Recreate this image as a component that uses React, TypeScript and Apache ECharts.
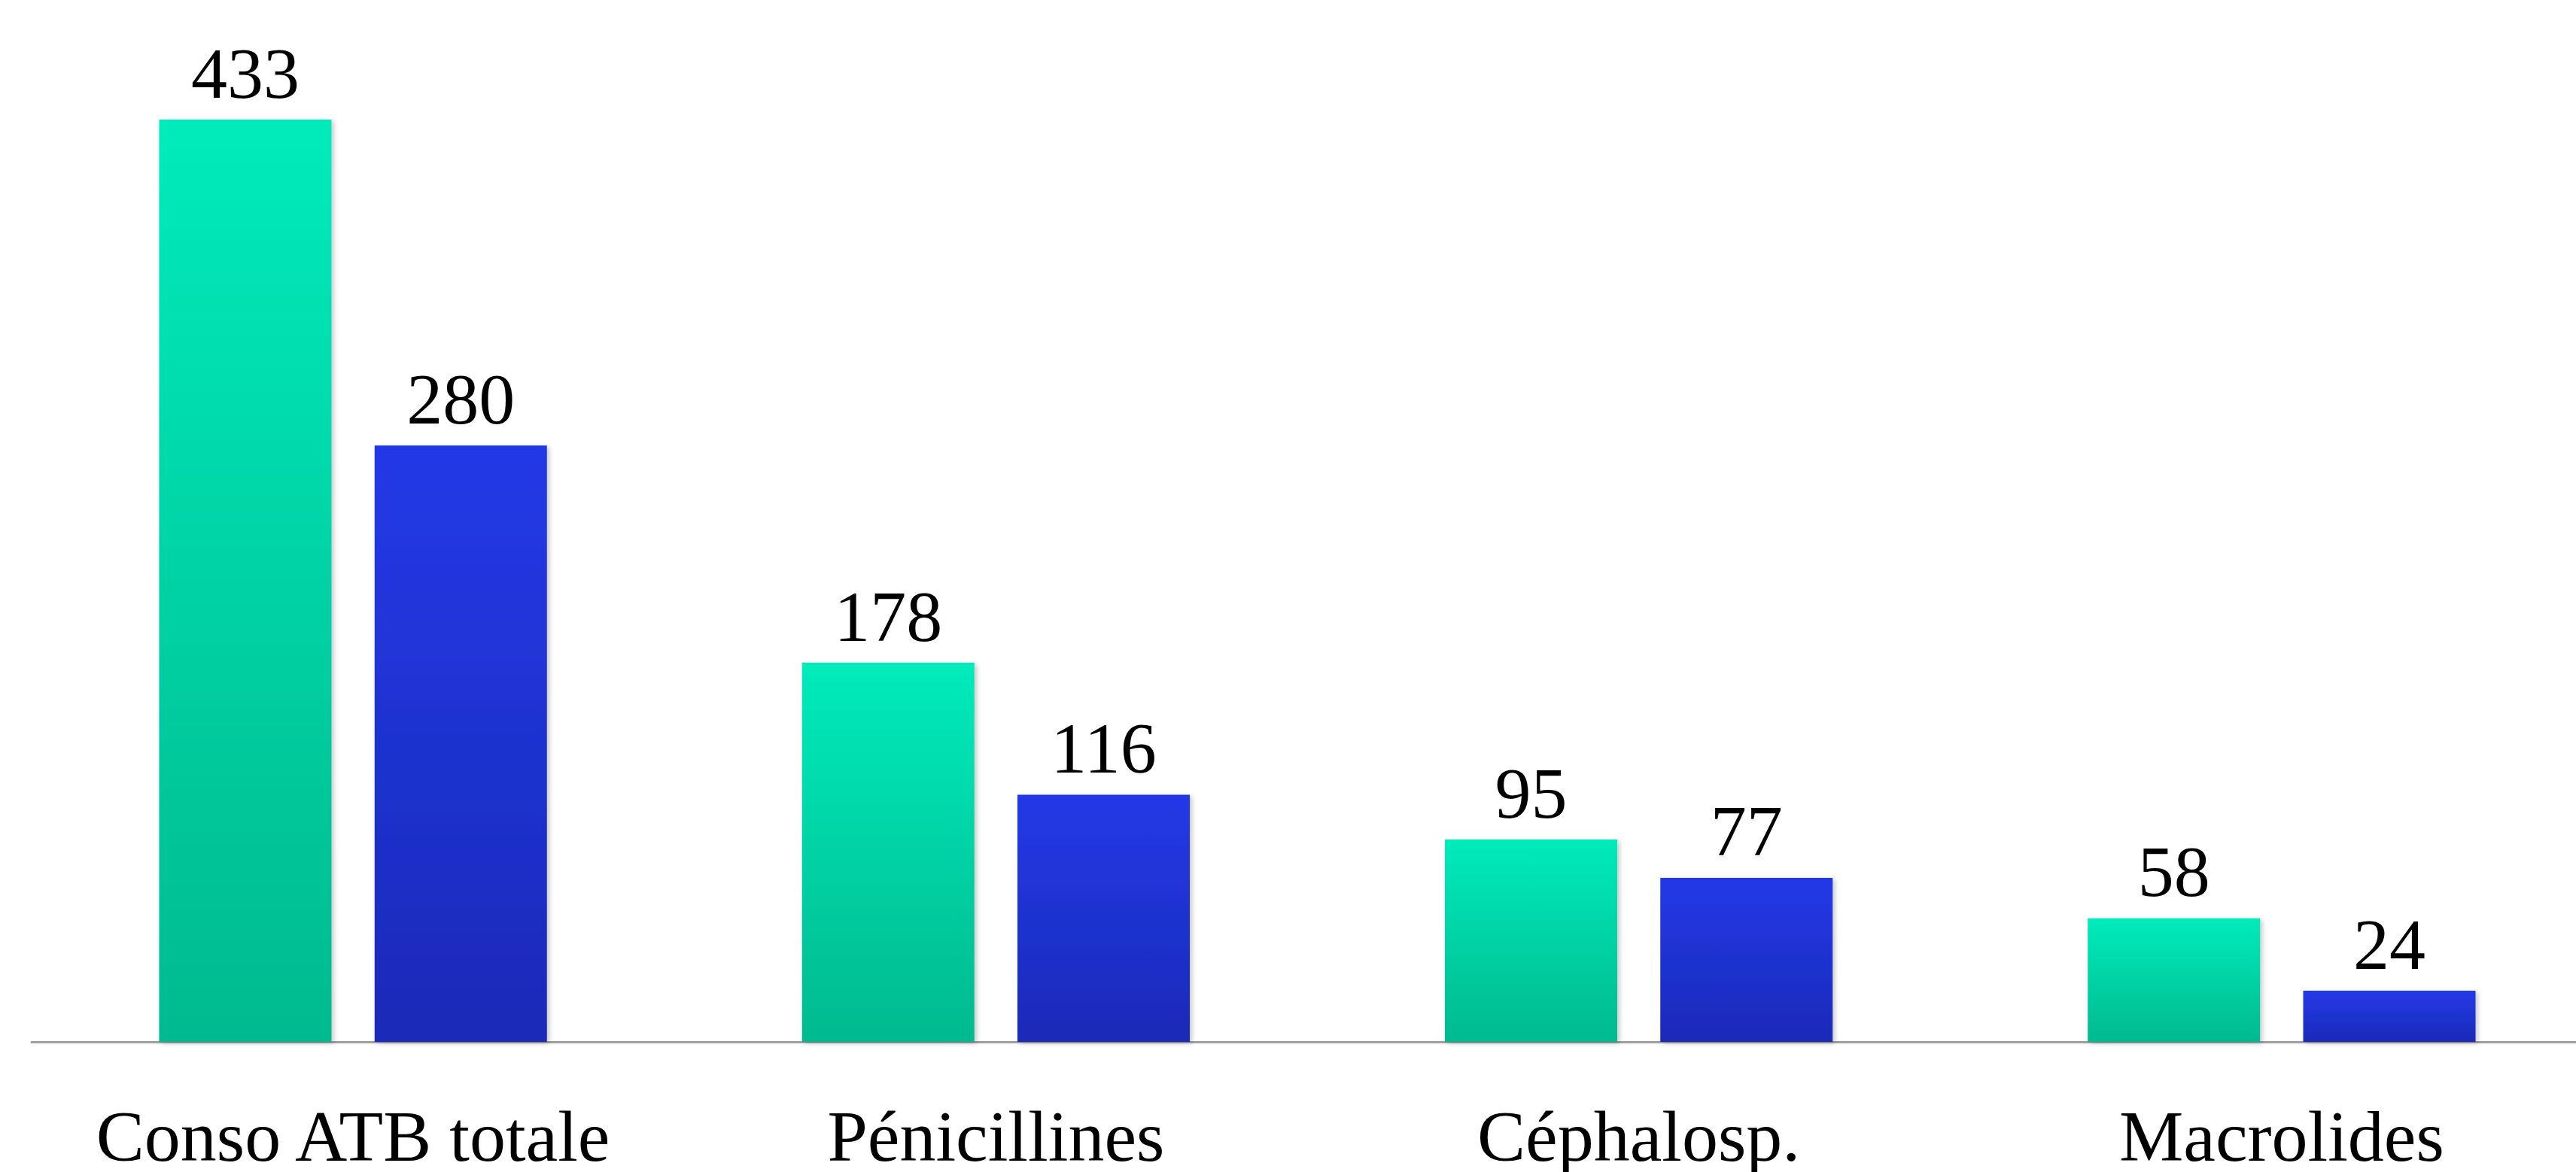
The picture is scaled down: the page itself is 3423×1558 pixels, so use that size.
import React, { useEffect, useRef } from "react";
import * as echarts from "echarts";

const categories = ["Conso ATB totale", "Pénicillines", "Céphalosp.", "Macrolides"];
const seriesNames = ["Série 1", "Série 2"];
const series1Values = [433, 178, 95, 58];
const series2Values = [280, 116, 77, 24];

const FONT = '"Liberation Serif", "Times New Roman", "DejaVu Serif", serif';

function grad(top: string, bottom: string) {
  return new echarts.graphic.LinearGradient(0, 0, 0, 1, [
    { offset: 0, color: top },
    { offset: 1, color: bottom },
  ]);
}

export default function App() {
  const ref = useRef<HTMLDivElement>(null);
  useEffect(() => {
    document.body.style.margin = "0";
    document.body.style.overflow = "hidden";
    if (!ref.current) return;
    const chart = echarts.init(ref.current, null, { renderer: "svg" });
    const labelCfg = {
      show: true,
      position: "top" as const,
      distance: 14,
      fontFamily: FONT,
      fontSize: 96,
      color: "#000000",
    };
    const shadow = {
      shadowColor: "rgba(0,0,0,0.22)",
      shadowBlur: 6,
      shadowOffsetX: 3,
      shadowOffsetY: 2,
    };
    chart.setOption({
      animation: false,
      backgroundColor: "#ffffff",
      grid: { left: 42, right: 0, top: 26, bottom: 166, containLabel: false },
      xAxis: {
        type: "category",
        data: categories,
        axisLine: { show: true, lineStyle: { color: "#A0A0A0", width: 3 } },
        axisTick: { show: false },
        axisLabel: {
          fontFamily: FONT,
          fontSize: 96,
          color: "#000000",
          margin: 77,
          interval: 0,
        },
      },
      yAxis: {
        type: "value",
        min: 0,
        max: 480,
        show: false,
        splitLine: { show: false },
      },
      series: [
        {
          name: seriesNames[0],
          type: "bar",
          data: series1Values,
          barWidth: 229,
          barGap: "25%",
          itemStyle: { color: grad("#00EBBB", "#00BA8F"), ...shadow },
          label: labelCfg,
        },
        {
          name: seriesNames[1],
          type: "bar",
          data: series2Values,
          barWidth: 229,
          barGap: "25%",
          itemStyle: { color: grad("#2339E7", "#1B2AB8"), ...shadow },
          label: labelCfg,
        },
      ],
    });
    return () => chart.dispose();
  }, []);
  return (
    <div style={{ width: 3423, height: 1558, overflow: "hidden" }}>
      <div ref={ref} style={{ width: 3459, height: 1558 }} />
    </div>
  );
}
